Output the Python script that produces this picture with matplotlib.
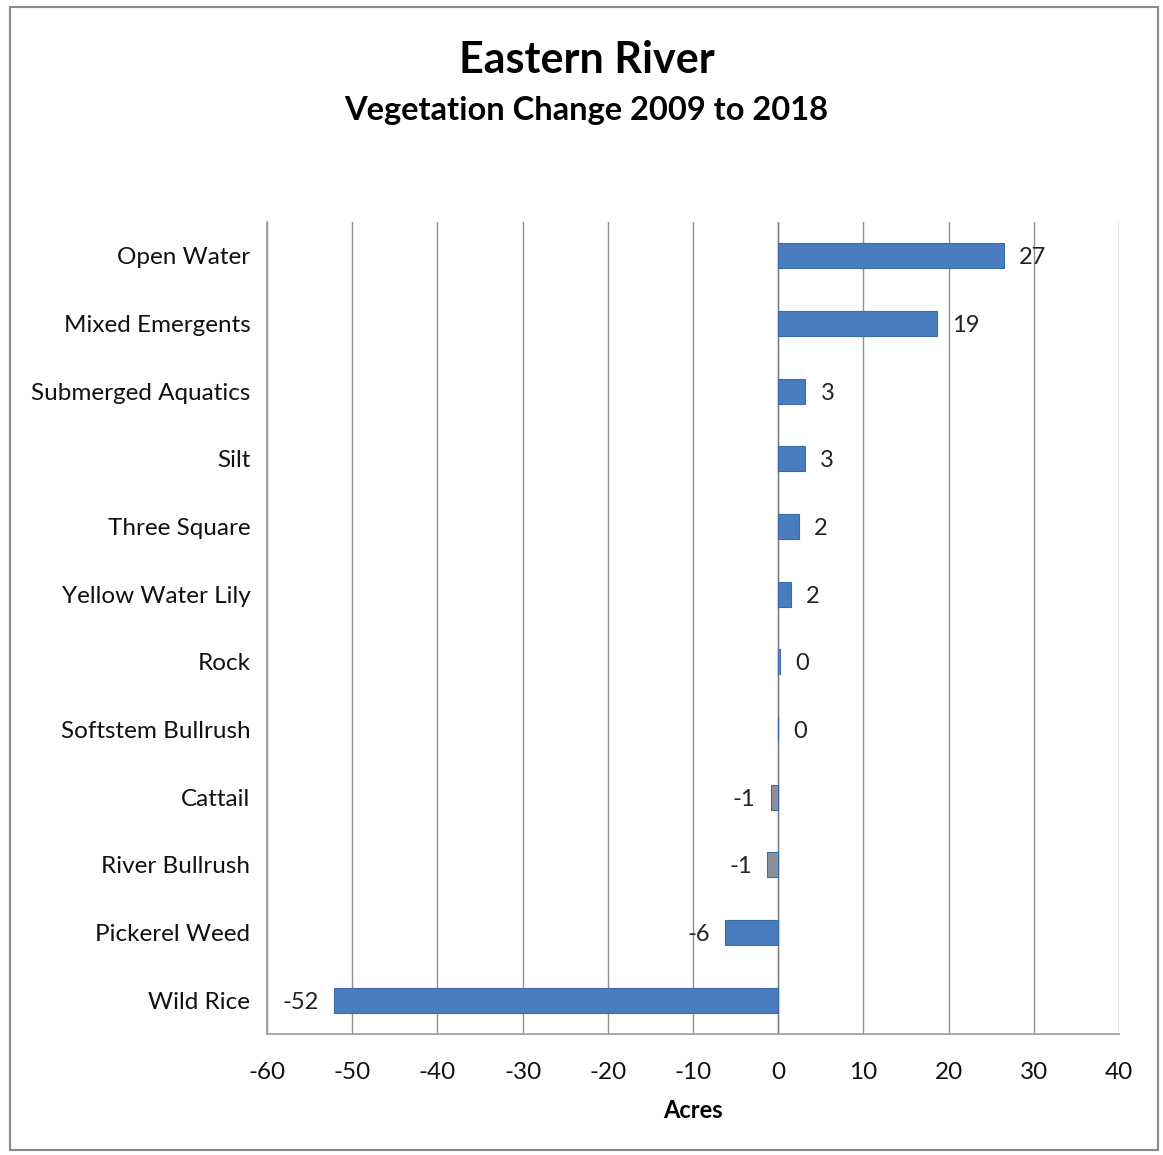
import matplotlib.pyplot as plt
from matplotlib.patches import Rectangle

# data (acres, 2009 -> 2018)
categories = ["Open Water", "Mixed Emergents", "Submerged Aquatics", "Silt",
              "Three Square", "Yellow Water Lily", "Rock", "Softstem Bullrush",
              "Cattail", "River Bullrush", "Pickerel Weed", "Wild Rice"]
values = [26.5, 18.6, 3.2, 3.1, 2.4, 1.5, 0.2, 0.0, -0.9, -1.3, -6.2, -52.1]
labels = ["27", "19", "3", "3", "2", "2", "0", "0", "-1", "-1", "-6", "-52"]
xticks = [-60, -50, -40, -30, -20, -10, 0, 10, 20, 30, 40]

plt.rcParams['font.family'] = ['Lato', 'DejaVu Sans']
plt.rcParams['axes.unicode_minus'] = False

fig = plt.figure(figsize=(11.63, 11.55), dpi=100)
ax = fig.add_axes([0.2296, 0.1048, 0.7326, 0.7030])

# small bars look grey in the original
colors = ['#4a7dbf'] * len(values)
for i, v in enumerate(values):
    if -2 < v < 0 or 0 < v < 0.5:
        colors[i] = '#8a8f99'

ypos = list(range(len(categories)))
ax.barh(ypos, values, height=0.37, color=colors, edgecolor='#3d6ba8',
        linewidth=0.8, zorder=3)

for y, v, lab in zip(ypos, values, labels):
    if v < 0:
        ax.annotate(lab, (v, y), xytext=(-11, 0), textcoords='offset points',
                    ha='right', va='center_baseline', fontsize=17, color='#222222')
    else:
        ax.annotate(lab, (v, y), xytext=(11, 0), textcoords='offset points',
                    ha='left', va='center_baseline', fontsize=17, color='#222222')

ax.set_xlim(-60, 40)
ax.set_ylim(len(categories) - 0.5, -0.5)
ax.set_xticks(xticks)
ax.set_yticks(ypos)
ax.set_yticklabels(categories)
ax.tick_params(axis='both', length=0, labelsize=17.5, colors='#111111')
ax.tick_params(axis='y', pad=12)
ax.tick_params(axis='x', pad=20)

ax.grid(axis='x', color='#939393', linewidth=1.0, zorder=0)
ax.axvline(0, color='#7f7f7f', linewidth=1.0, zorder=2)
for side in ['top', 'right']:
    ax.spines[side].set_visible(False)
for side in ['left', 'bottom']:
    ax.spines[side].set_color('#9a9a9a')
    ax.spines[side].set_linewidth(1.2)

ax.set_xlabel("Acres", fontsize=17, fontweight='bold', labelpad=12)

fig.text(0.505, 0.948, "Eastern River", ha='center', va='center',
         fontsize=31, fontweight='bold')
fig.text(0.504, 0.904, "Vegetation Change 2009 to 2018", ha='center', va='center',
         fontsize=23.5, fontweight='bold')

# outer chart frame
fig.patches.append(Rectangle((10 / 1163, 5 / 1155), 1148 / 1163, 1143 / 1155,
                             transform=fig.transFigure, fill=False,
                             edgecolor='#8a8a8a', linewidth=1.5))

plt.savefig("out.png", dpi=100)
